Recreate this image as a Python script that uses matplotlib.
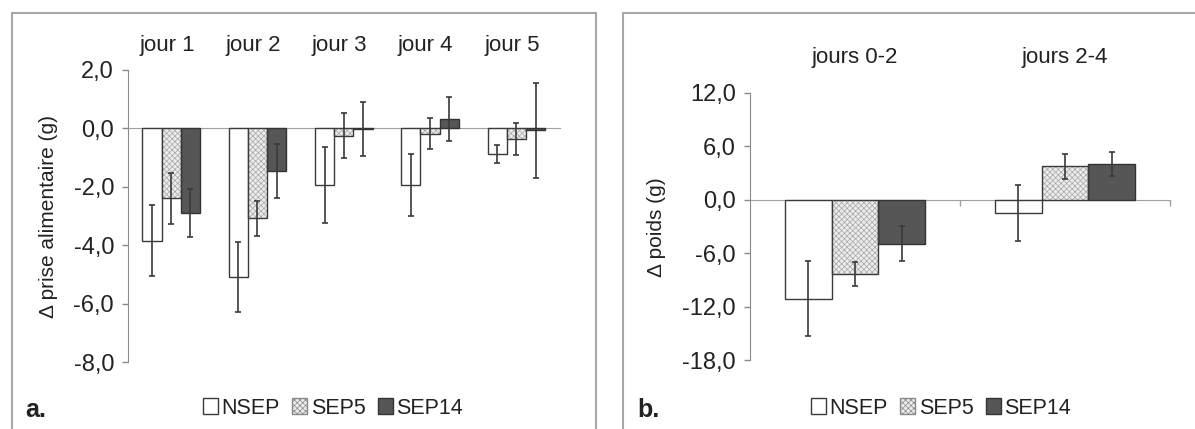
import matplotlib.pyplot as plt
from matplotlib.patches import Rectangle
from matplotlib import transforms
import numpy as np

plt.rcParams['font.family'] = ['Liberation Sans', 'DejaVu Sans']
plt.rcParams['hatch.linewidth'] = 0.5

# panel a: change in food intake per day
days = ["jour 1", "jour 2", "jour 3", "jour 4", "jour 5"]
nsep_a = [-3.84, -5.08, -1.95, -1.95, -0.88]
nsep_a_err = [1.2, 1.2, 1.3, 1.06, 0.31]
sep5_a = [-2.4, -3.07, -0.25, -0.18, -0.36]
sep5_a_err = [0.86, 0.6, 0.78, 0.54, 0.55]
sep14_a = [-2.9, -1.47, -0.03, 0.31, -0.07]
sep14_a_err = [0.83, 0.92, 0.92, 0.75, 1.64]
yticks_a = [2, 0, -2, -4, -6, -8]

# panel b: change in body weight
periods = ["jours 0-2", "jours 2-4"]
nsep_b = [-11.1, -1.55]
nsep_b_err = [4.25, 3.15]
sep5_b = [-8.3, 3.73]
sep5_b_err = [1.35, 1.37]
sep14_b = [-4.94, 4.0]
sep14_b_err = [1.97, 1.4]
yticks_b = [12, 6, 0, -6, -12, -18]

groups = ["NSEP", "SEP5", "SEP14"]

W, H = 1195, 429
fig = plt.figure(figsize=(W / 100, H / 100), dpi=100)

EDGE = '#3a3a3a'
AXC = '#8a8a8a'
TXT = '#222222'
FS = 15


def draw_panel(ax, cats, vals, errs, yticks, boundary_ticks):
    x = np.arange(len(cats))
    bw = 2 / 9
    offs = [-bw, 0, bw]
    # NSEP: white
    ax.bar(x + offs[0], vals[0], bw, color='white', edgecolor=EDGE, lw=1, zorder=3)
    # SEP5: light, finely hatched
    ax.bar(x + offs[1], vals[1], bw, color='#ececec', edgecolor='#a6a6a6',
           hatch='xxxxxx', lw=0, zorder=3)
    ax.bar(x + offs[1], vals[1], bw, fill=False, edgecolor=EDGE, lw=1, zorder=4)
    # SEP14: dark
    ax.bar(x + offs[2], vals[2], bw, color='#565656', edgecolor='#333333', lw=1, zorder=3)
    for o, v, e in zip(offs, vals, errs):
        ax.errorbar(x + o, v, yerr=e, fmt='none', ecolor=EDGE, elinewidth=1.2,
                    capsize=2, capthick=1.2, zorder=5)

    ax.set_xlim(-0.5, len(cats) - 0.5)
    ax.set_ylim(min(yticks), max(yticks))
    ax.set_yticks(yticks)
    ax.set_yticklabels([f"{v:.1f}".replace('.', ',') for v in yticks])
    for s in ['top', 'right']:
        ax.spines[s].set_visible(False)
    ax.spines['bottom'].set_position(('data', 0))
    ax.spines['bottom'].set_color('#a0a0a0')
    ax.spines['bottom'].set_zorder(2)
    ax.spines['left'].set_color(AXC)
    ax.tick_params(axis='y', direction='out', length=4, width=1, color=AXC,
                   labelsize=17, pad=6, labelcolor=TXT)
    if boundary_ticks:
        ax.set_xticks(np.arange(len(cats)) + 0.5)
        ax.tick_params(axis='x', direction='out', length=4, width=1, color='#a0a0a0',
                       labelbottom=False)
    else:
        ax.set_xticks([])
    ax.patch.set_alpha(0)


ax_a = fig.add_axes([128 / W, 1 - 362 / H, 431.5 / W, 292 / H])
draw_panel(ax_a, days, [nsep_a, sep5_a, sep14_a],
           [nsep_a_err, sep5_a_err, sep14_a_err], yticks_a, False)

ax_b = fig.add_axes([750 / W, 1 - 360 / H, 420 / W, 267.3 / H])
draw_panel(ax_b, periods, [nsep_b, sep5_b, sep14_b],
           [nsep_b_err, sep5_b_err, sep14_b_err], yticks_b, True)

# category labels above the plots
tr_a = transforms.blended_transform_factory(ax_a.transData, fig.transFigure)
for i, d in enumerate(days):
    ax_a.text(i - 0.05, 1 - 45 / H, d, transform=tr_a, ha='center', va='center',
              fontsize=16, color=TXT)
tr_b = transforms.blended_transform_factory(ax_b.transData, fig.transFigure)
for i, p in enumerate(periods):
    ax_b.text(i, 1 - 58 / H, p, transform=tr_b, ha='center', va='center',
              fontsize=16, color=TXT)

fig.text(49 / W, 1 - 217 / H, "Δ prise alimentaire (g)", rotation=90,
         ha='center', va='center', fontsize=FS, color=TXT)
fig.text(657 / W, 1 - 227 / H, "Δ poids (g)", rotation=90,
         ha='center', va='center', fontsize=FS, color=TXT)

# panel frames
fig.add_artist(Rectangle((12 / W, -0.05), (596 - 12) / W, 1.05 - 13 / H,
                         transform=fig.transFigure, fill=False,
                         edgecolor='#a8a8a8', lw=1.5))
fig.add_artist(Rectangle((623 / W, -0.05), 0.5, 1.05 - 13 / H,
                         transform=fig.transFigure, fill=False,
                         edgecolor='#a8a8a8', lw=1.5))

# panel letters
fig.text(25 / W, 1 - 410 / H, "a.", fontsize=18, fontweight='bold',
         ha='left', va='center', color=TXT)
fig.text(637 / W, 1 - 410 / H, "b.", fontsize=18, fontweight='bold',
         ha='left', va='center', color=TXT)

# legends
handles = [
    Rectangle((0, 0), 1, 1, facecolor='white', edgecolor=EDGE, lw=1),
    Rectangle((0, 0), 1, 1, facecolor='#ececec', edgecolor='#8a8a8a', hatch='xxxxxx', lw=1),
    Rectangle((0, 0), 1, 1, facecolor='#565656', edgecolor='#333333', lw=1),
]
for cx in (333, 941):
    fig.legend(handles, groups, loc='center', bbox_to_anchor=(cx / W, 1 - 408 / H),
               ncol=3, frameon=False, fontsize=15.5, handlelength=0.7,
               handleheight=0.7, handletextpad=0.15, columnspacing=0.6,
               borderpad=0, labelcolor=TXT)

fig.savefig('out.png', dpi=100)
